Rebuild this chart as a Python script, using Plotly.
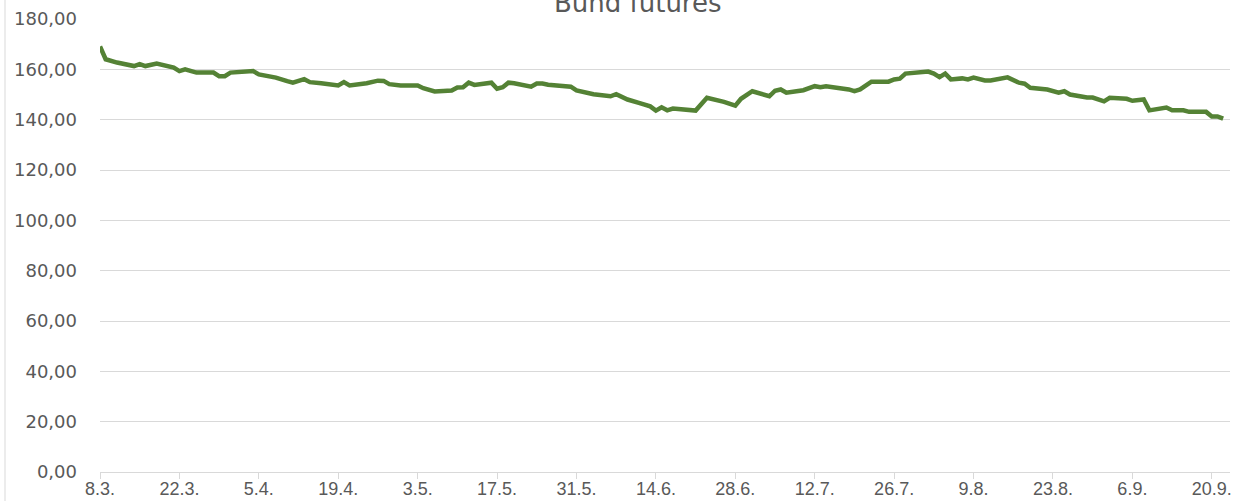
import plotly.graph_objects as go

title_text = "Bund futures"

dates = [
    "2022-03-08", "2022-03-09", "2022-03-11", "2022-03-14", "2022-03-15", "2022-03-16",
    "2022-03-18", "2022-03-21", "2022-03-22", "2022-03-23", "2022-03-25", "2022-03-28",
    "2022-03-29", "2022-03-30", "2022-03-31", "2022-04-02", "2022-04-04", "2022-04-05",
    "2022-04-07", "2022-04-08", "2022-04-10", "2022-04-11", "2022-04-13", "2022-04-14",
    "2022-04-16", "2022-04-19", "2022-04-20", "2022-04-21", "2022-04-24", "2022-04-26",
    "2022-04-27", "2022-04-28", "2022-04-30", "2022-05-03", "2022-05-04", "2022-05-06",
    "2022-05-09", "2022-05-10", "2022-05-11", "2022-05-12", "2022-05-13", "2022-05-14",
    "2022-05-16", "2022-05-17", "2022-05-18", "2022-05-19", "2022-05-20", "2022-05-23",
    "2022-05-24", "2022-05-25", "2022-05-26", "2022-05-30", "2022-05-31", "2022-06-03",
    "2022-06-06", "2022-06-07", "2022-06-09", "2022-06-11", "2022-06-13", "2022-06-14",
    "2022-06-15", "2022-06-16", "2022-06-17", "2022-06-21", "2022-06-23", "2022-06-26",
    "2022-06-28", "2022-06-29", "2022-07-01", "2022-07-04", "2022-07-05", "2022-07-06",
    "2022-07-07", "2022-07-10", "2022-07-12", "2022-07-13", "2022-07-14", "2022-07-18",
    "2022-07-19", "2022-07-20", "2022-07-22", "2022-07-25", "2022-07-26", "2022-07-27",
    "2022-07-28", "2022-08-01", "2022-08-02", "2022-08-03", "2022-08-04", "2022-08-05",
    "2022-08-07", "2022-08-08", "2022-08-09", "2022-08-11", "2022-08-12", "2022-08-15",
    "2022-08-17", "2022-08-18", "2022-08-19", "2022-08-22", "2022-08-24", "2022-08-25",
    "2022-08-26", "2022-08-29", "2022-08-30", "2022-09-01", "2022-09-02", "2022-09-05",
    "2022-09-06", "2022-09-08", "2022-09-09", "2022-09-12", "2022-09-13", "2022-09-15",
    "2022-09-16", "2022-09-19", "2022-09-20", "2022-09-21", "2022-09-22",
]

values = [
    169.1, 164.0, 162.7, 161.3, 162.1, 161.3,
    162.3, 160.7, 159.3, 160.0, 158.7, 158.7,
    157.3, 157.3, 158.7, 159.1, 159.3, 158.0,
    157.1, 156.7, 155.3, 154.7, 156.1, 154.9,
    154.5, 153.6, 154.9, 153.6, 154.5, 155.5,
    155.4, 154.1, 153.6, 153.6, 152.5, 151.2,
    151.6, 152.8, 152.9, 154.7, 153.8, 154.1,
    154.7, 152.3, 152.9, 154.7, 154.5, 153.1,
    154.4, 154.4, 153.9, 153.1, 151.6, 150.1,
    149.3, 150.1, 148.0, 146.7, 145.3, 143.6,
    144.9, 143.7, 144.4, 143.6, 148.7, 147.1,
    145.6, 148.3, 151.3, 149.3, 151.5, 152.0,
    150.7, 151.7, 153.3, 152.9, 153.3, 152.0,
    151.3, 152.0, 155.1, 155.1, 156.0, 156.3,
    158.3, 159.1, 158.3, 156.9, 158.3, 156.0,
    156.4, 156.0, 156.7, 155.6, 155.6, 156.8,
    154.7, 154.3, 152.7, 152.0, 150.7, 151.3,
    150.0, 148.8, 148.8, 147.3, 148.7, 148.3,
    147.5, 148.0, 143.7, 144.8, 143.7, 143.7,
    143.1, 143.1, 141.3, 141.3, 140.4,
]

x_range = ["2022-03-08", "2022-09-23 05:00"]
x_tick0 = "2022-03-08"
y_range = [0, 180]
y_dtick = 20

W, H = 1235, 501
ML, MR, MT, MB = 100, 5, 19, 29
PW, PH = W - ML - MR, H - MT - MB

fig = go.Figure()
fig.add_trace(go.Scatter(
    x=dates, y=values, mode="lines",
    line=dict(color="#548235", width=4.5),
    showlegend=False, hoverinfo="skip",
))

fig.update_layout(
    width=W, height=H,
    margin=dict(l=ML, r=MR, t=MT, b=MB, pad=0, autoexpand=False),
    paper_bgcolor="white", plot_bgcolor="white",
    separators=", ",
    xaxis=dict(
        type="date", range=x_range, automargin=False,
        tick0=x_tick0, dtick=14 * 86400000,
        tickformat="%-d.%-m.",
        showgrid=False, zeroline=False,
        showline=True, linecolor="#d9d9d9", linewidth=1,
        ticks="outside", ticklen=6, tickcolor="#d9d9d9", tickwidth=1,
        tickfont=dict(family="Liberation Sans, Arial, sans-serif", size=18, color="#595959"),
        ticklabelstandoff=-6,
    ),
    yaxis=dict(
        range=y_range, dtick=y_dtick, tick0=0, automargin=False,
        tickformat=".2f",
        showgrid=True, gridcolor="#d9d9d9", gridwidth=1,
        zeroline=False, showline=False,
        ticks="",
        tickfont=dict(family="DejaVu Sans, sans-serif", size=18, color="#595959"),
        ticklabelstandoff=22,
    ),
)

fig.add_annotation(
    text=title_text, showarrow=False,
    xref="paper", yref="paper",
    x=(637.5 - ML) / PW, xanchor="center",
    y=1 + (MT - 3) / PH, yanchor="middle",
    font=dict(family="DejaVu Sans, sans-serif", size=26, color="#595959"),
)

fig.add_shape(
    type="line", xref="paper", yref="paper",
    x0=(5 - ML) / PW, x1=(5 - ML) / PW,
    y0=-MB / PH, y1=1 + MT / PH,
    line=dict(color="#d9d9d9", width=1),
)

fig.write_html(
    "out.html",
    config={"displayModeBar": False, "staticPlot": True},
    post_script="document.body.style.margin='0';document.body.style.overflow='hidden';",
)
